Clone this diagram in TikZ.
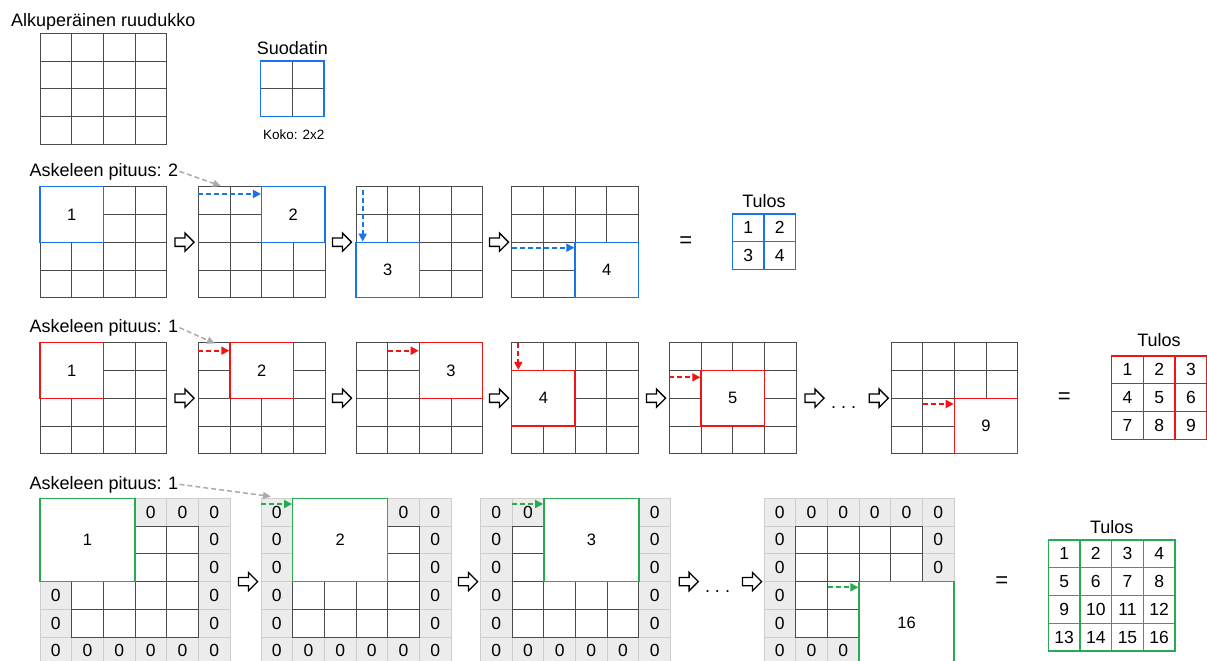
\documentclass[tikz,border=0pt]{standalone}
\usepackage{fontspec}
\setmainfont{Liberation Sans}
\usepackage{tikz}
\usetikzlibrary{arrows.meta,shapes.arrows}

\definecolor{sininen}{RGB}{26,115,232}
\definecolor{punainen}{RGB}{240,20,20}
\definecolor{vihrea}{RGB}{40,170,80}
\definecolor{viiva}{RGB}{75,75,75}
\definecolor{tayte}{RGB}{236,236,236}
\definecolor{reuna}{RGB}{205,205,205}

\def\cw{31.67}
\def\ch{27.75}

% 4x4 ruudukko, vasen ylakulma (#1,#2)
\newcommand{\ruudukko}[2]{%
  \foreach \i in {0,...,3}
    \foreach \j in {0,...,3}
      \draw[ruutu] ({#1+\i*\cw},{#2+\j*\ch}) rectangle ++(\cw,\ch);
}
% 6x6 ruudukko nollareunalla
\newcommand{\nollareuna}[3]{%
  \foreach \i in {0,...,5}
    \foreach \j in {0,...,5}
      \draw[reunaruutu] ({#1+\i*\cw},{#2+\j*\ch}) rectangle ++(\cw,\ch);
  \foreach \i in {1,...,4}
    \foreach \j in {1,...,4}
      \draw[ruutu,fill=white] ({#1+\i*\cw},{#2+\j*\ch}) rectangle ++(\cw,\ch);
  \foreach \i/\j in {0/0,1/0,2/0,3/0,4/0,5/0,0/5,1/5,2/5,3/5,4/5,5/5,
                     0/1,0/2,0/3,0/4,5/1,5/2,5/3,5/4}
    \node[nolla] (#3-\i-\j) at ({#1+(\i+0.5)*\cw},{#2+(\j+0.5)*\ch}) {0};
}
% tulosruudukko
\newcommand{\tulosruudukko}[4]{%
  \foreach \j in {1,...,#3}
    \foreach \i in {1,...,#3}{
      \pgfmathtruncatemacro{\k}{(\j-1)*#3+\i}
      \draw[#4,line width=1.3pt] ({#1+(\i-1)*\cw},{#2+(\j-1)*\ch}) rectangle ++(\cw,\ch);
      \node[numero] (#4-\k) at ({#1+(\i-0.5)*\cw},{#2+(\j-0.5)*\ch}) {\k};
    }
}

\begin{document}
\begin{tikzpicture}[x=1pt,y=-1pt,
    ruutu/.style={draw=viiva,line width=0.9pt},
    reunaruutu/.style={draw=reuna,fill=tayte,line width=0.9pt},
    nolla/.style={inner sep=0pt,font=\fontsize{17.5}{20}\selectfont},
    numero/.style={inner sep=0pt,font=\fontsize{17.5}{20}\selectfont},
    otsikko/.style={inner sep=1pt,font=\fontsize{18}{21}\selectfont},
    suodin/.style={draw=#1,fill=white,line width=1.3pt,inner sep=0pt,
      minimum width=63.34pt,minimum height=55.5pt,font=\fontsize{16.5}{19}\selectfont},
    suodin3/.style={suodin=#1,minimum width=95pt,minimum height=83.25pt},
    siirto/.style={line width=1.8pt,dash pattern=on 5pt off 3pt,
      -{Triangle[length=8pt,width=8pt]}},
    harmaa/.style={draw=black!33,line width=1.5pt,dash pattern=on 5pt off 3pt,
      -{Triangle[length=8pt,width=7pt]}},
    nuoli/.style={shape=single arrow,draw=black,fill=white,line width=1.3pt,
      inner xsep=0pt,inner ysep=3.5pt,minimum height=19pt,minimum width=17pt,
      single arrow head extend=5pt},
    yhtasuuri/.style={inner sep=0pt,font=\fontsize{22}{24}\selectfont},
  ]
\useasboundingbox (0,0) rectangle (1207,661);

\node[otsikko,anchor=base west] (alku) at (10,26.7) {Alkuperäinen ruudukko};
\ruudukko{40}{33.3}
\node[otsikko,anchor=base] (suodatin) at (292.3,54.3) {Suodatin};
\foreach \i in {0,1}
  \foreach \j in {0,1}
    \draw[ruutu] ({260.7+\i*\cw},{61+\j*\ch}) rectangle ++(\cw,\ch);
\node[suodin=sininen,fill=none] (malli) at ({260.7+\cw},{61+\ch}) {};
\node[inner sep=0pt,font=\fontsize{13.5}{16}\selectfont,anchor=base] (koko) at (293.7,139.3) {Koko: 2x2};

% askel 2
\node[otsikko,anchor=base west] (askel1) at (28.3,176) {Askeleen pituus: 2};
\ruudukko{40}{186.7}
\ruudukko{198.3}{186.7}
\ruudukko{356}{186.7}
\ruudukko{511.7}{186.7}
\node[suodin=sininen] (a1) at ({40+\cw},{186.7+\ch}) {1};
\node[suodin=sininen] (a2) at ({198.3+3*\cw},{186.7+\ch}) {2};
\node[suodin=sininen] (a3) at ({356+\cw},{186.7+3*\ch}) {3};
\node[suodin=sininen] (a4) at ({511.7+3*\cw},{186.7+3*\ch}) {4};
\coordinate (k1) at (221,186);
\draw[harmaa] (askel1.east) -- (k1);
\coordinate (b2) at (198.3,194);
\coordinate (b3) at (362.7,190);
\coordinate (b4) at (511.7,247.7);
\draw[siirto,sininen] (b2) -- (b2 -| a2.west);
\draw[siirto,sininen] (b3) -- (b3 |- a3.north);
\draw[siirto,sininen] (b4) -- (b4 -| a4.west);
\node[nuoli] (n11) at (182.5,242.2) {};
\node[nuoli] (n12) at (340,242.2) {};
\node[nuoli] (n13) at (497,242.2) {};
\node[yhtasuuri] (y1) at (685.7,242) {=};
\node[otsikko,anchor=base] (tulos1) at (764,207.3) {Tulos};
\tulosruudukko{732.3}{214}{2}{sininen}

% askel 1
\node[otsikko,anchor=base west] (askel2) at (28.3,332.3) {Askeleen pituus: 1};
\ruudukko{40}{342.7}
\ruudukko{198.3}{342.7}
\ruudukko{356}{342.7}
\ruudukko{511.7}{342.7}
\ruudukko{669.3}{342.7}
\ruudukko{891}{342.7}
\node[suodin=punainen] (c1) at ({40+\cw},{342.7+\ch}) {1};
\node[suodin=punainen] (c2) at ({198.3+2*\cw},{342.7+\ch}) {2};
\node[suodin=punainen] (c3) at ({356+3*\cw},{342.7+\ch}) {3};
\node[suodin=punainen] (c4) at ({511.7+\cw},{342.7+2*\ch}) {4};
\node[suodin=punainen] (c5) at ({669.3+2*\cw},{342.7+2*\ch}) {5};
\node[suodin=punainen] (c9) at ({891+3*\cw},{342.7+3*\ch}) {9};
\coordinate (k2) at (215,343.5);
\draw[harmaa] (askel2.east) -- (k2);
\coordinate (d2) at (198.3,350.7);
\coordinate (d3) at (387.7,350.7);
\coordinate (d4) at (518.3,342.7);
\coordinate (d5) at (669.3,377.3);
\coordinate (d9) at (923.3,404);
\draw[siirto,punainen] (d2) -- (d2 -| c2.west);
\draw[siirto,punainen] (d3) -- (d3 -| c3.west);
\draw[siirto,punainen] (d4) -- (d4 |- c4.north);
\draw[siirto,punainen] (d5) -- (d5 -| c5.west);
\draw[siirto,punainen] (d9) -- (d9 -| c9.west);
\node[nuoli] (n21) at (182.5,398.2) {};
\node[nuoli] (n22) at (340,398.2) {};
\node[nuoli] (n23) at (497,398.2) {};
\node[nuoli] (n24) at (654,398.2) {};
\node[nuoli] (n25) at (812.5,398.2) {};
\node[otsikko,anchor=base] (p2) at (843.5,408) {.\hspace{5pt}.\hspace{5pt}.};
\node[nuoli] (n26) at (876.7,398.2) {};
\node[yhtasuuri] (y2) at (1064.3,398) {=};
\node[otsikko,anchor=base] (tulos2) at (1159,346.7) {Tulos};
\tulosruudukko{1111.7}{356}{3}{punainen}

% nollareuna
\node[otsikko,anchor=base west] (askel3) at (28.3,489) {Askeleen pituus: 1};
\nollareuna{40}{498.3}{r1}
\nollareuna{261}{498.3}{r2}
\nollareuna{480.5}{498.3}{r3}
\nollareuna{764}{498.3}{r16}
\node[suodin3=vihrea] (e1) at ({40+1.5*\cw},{498.3+1.5*\ch}) {1};
\node[suodin3=vihrea] (e2) at ({261+2.5*\cw},{498.3+1.5*\ch}) {2};
\node[suodin3=vihrea] (e3) at ({480.5+3.5*\cw},{498.3+1.5*\ch}) {3};
\node[suodin3=vihrea] (e16) at ({764+4.5*\cw},{498.3+4.5*\ch}) {16};
\coordinate (k3) at (271,496.5);
\draw[harmaa] (askel3.east) -- (k3);
\coordinate (f2) at (261,504);
\coordinate (f3) at (512.3,504);
\coordinate (f16) at (828.3,587.3);
\draw[siirto,vihrea] (f2) -- (f2 -| e2.west);
\draw[siirto,vihrea] (f3) -- (f3 -| e3.west);
\draw[siirto,vihrea] (f16) -- (f16 -| e16.west);
\node[nuoli] (n31) at (246,581.6) {};
\node[nuoli] (n32) at (466,581.6) {};
\node[nuoli] (n33) at (686.7,581.6) {};
\node[otsikko,anchor=base] (p3) at (717.5,592) {.\hspace{5pt}.\hspace{5pt}.};
\node[nuoli] (n34) at (750,581.6) {};
\node[yhtasuuri] (y3) at (1001.7,581.7) {=};
\node[otsikko,anchor=base] (tulos3) at (1111.7,533.3) {Tulos};
\tulosruudukko{1048.3}{540}{4}{vihrea}
\end{tikzpicture}
\end{document}
